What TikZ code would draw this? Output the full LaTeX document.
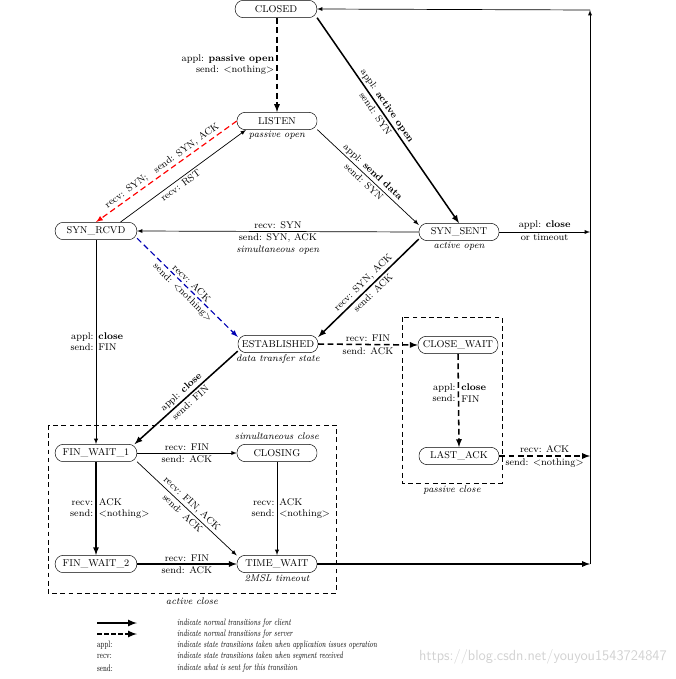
\documentclass[tikz,border=0pt]{standalone}
\usepackage{tikz}
\usetikzlibrary{arrows,shapes}

\newcommand{\legtext}[1]{\scalebox{0.7}[1]{#1}}

\begin{document}
\begin{tikzpicture}[x=0.03cm,y=-0.03cm,>=latex,
    state/.style={draw,rounded corners=7pt,minimum width=2.4cm,minimum height=0.52cm,inner sep=1pt,font=\fontsize{8.5}{10}\selectfont},
    lbl/.style={font=\fontsize{8.3}{9.6}\selectfont,inner sep=1.8pt},
    note/.style={font=\fontsize{8.3}{9.6}\selectfont\itshape,inner sep=1pt},
    leg/.style={font=\fontsize{8}{9}\selectfont,inner sep=0pt},
    cli/.style={line width=1.3pt,->},
    srv/.style={line width=1.3pt,dash pattern=on 5pt off 3pt,->},
    thn/.style={line width=0.6pt,->},
    box/.style={line width=0.5pt,dash pattern=on 4pt off 3pt}]
    \useasboundingbox (0,0) rectangle (675,679);

    \coordinate (tr) at (590,10);
    \coordinate (r1) at (590,232);
    \coordinate (r2) at (590,456);
    \coordinate (br) at (590,564);

    \node[state,minimum width=2.45cm] (closed) at (276,9) {CLOSED};
    \node[state,label={[note]270:passive open}] (listen) at (277,121) {LISTEN};
    \node[state,minimum width=2.45cm] (synrcvd) at (96,231) {SYN\_RCVD};
    \node[state,label={[note]270:active open}] (synsent) at (459,232) {SYN\_SENT};
    \node[state,label={[note]270:data transfer state}] (estab) at (278,344) {ESTABLISHED};
    \node[state] (closewait) at (458,345) {CLOSE\_WAIT};
    \node[state] (lastack) at (459,456) {LAST\_ACK};
    \node[state,minimum width=2.45cm] (finwait1) at (96,453) {FIN\_WAIT\_1};
    \node[state] (closing) at (277,453) {CLOSING};
    \node[state,minimum width=2.45cm] (finwait2) at (96,564) {FIN\_WAIT\_2};
    \node[state,label={[note]270:2MSL timeout}] (timewait) at (277,564) {TIME\_WAIT};

    \draw[box] (402,317) rectangle (502,483);
    \node[note] (pclose) at (452,490) {passive close};
    \draw[box] (48,425) rectangle (336,593);
    \node[note] (aclose) at (192,601) {active close};
    \node[note] (sclose) at (277,436) {simultaneous close};

    \draw[srv] (closed.south -| listen.north) -- node[lbl,left,align=right,pos=.5]{appl: \textbf{passive open}\\send: \textless nothing\textgreater} (listen.north);
    \draw[cli] (closed.-12) -- node[lbl,sloped,above,pos=.45]{appl: \textbf{active open}} node[lbl,sloped,below,pos=.45]{send: SYN} (synsent.north);
    \draw[thn] (listen.-12) -- node[lbl,sloped,above]{appl: \textbf{send data}} node[lbl,sloped,below]{send: SYN} (synsent.170);
    \draw[red,line width=1pt,dash pattern=on 5pt off 3pt,->] (listen.west) -- node[lbl,text=black,sloped,above]{recv: SYN;\quad send: SYN, ACK} (synrcvd.north);
    \draw[thn] (synrcvd.20) -- node[lbl,sloped,below,pos=.45]{recv: RST} (listen.196);
    \draw[thn] (synsent.west) -- node[lbl,above]{recv: SYN} node[lbl,below,align=center]{send: SYN, ACK\\\textit{simultaneous open}} (synrcvd.east);
    \draw[blue!70!black,line width=1pt,dash pattern=on 5pt off 3pt,->] (synrcvd.-10) -- node[lbl,text=black,sloped,above]{recv: ACK} node[lbl,text=black,sloped,below]{send: \textless nothing\textgreater} (estab.170);
    \draw[cli] (synsent.190) -- node[lbl,sloped,above]{recv: SYN, ACK} node[lbl,sloped,below]{send: ACK} (estab.10);
    \draw[thn] (synsent.east) -- node[lbl,above]{appl: \textbf{close}} node[lbl,below]{or timeout} (r1);
    \draw[srv] (estab.east) -- node[lbl,above]{recv: FIN} node[lbl,below]{send: ACK} (closewait.west);
    \draw[srv] (closewait.south) -- node[lbl,left,align=right,pos=.42]{appl:\\send:} node[lbl,right,align=left,pos=.42]{\textbf{close}\\FIN} (lastack.north);
    \draw[srv] (lastack.east) -- node[lbl,above]{recv: ACK} node[lbl,below]{send: \textless nothing\textgreater} (r2);
    \draw[thn] (synrcvd.south) -- node[lbl,left,align=right,pos=.5]{appl:\\send:} node[lbl,right,align=left,pos=.5]{\textbf{close}\\FIN} (finwait1.north);
    \draw[cli] (estab.190) -- node[lbl,sloped,above]{appl: \textbf{close}} node[lbl,sloped,below]{send: FIN} (finwait1.13);
    \draw[thn] (finwait1.east) -- node[lbl,above]{recv: FIN} node[lbl,below]{send: ACK} (closing.west);
    \draw[cli] (finwait1.south) -- node[lbl,left,align=right]{recv:\\send:} node[lbl,right,align=left]{ACK\\\textless nothing\textgreater} (finwait2.north);
    \draw[thn] (finwait1.-12) -- node[lbl,sloped,above]{recv: FIN, ACK} node[lbl,sloped,below]{send: ACK} (timewait.168);
    \draw[thn] (closing.south) -- node[lbl,left,align=right]{recv:\\send:} node[lbl,right,align=left]{ACK\\\textless nothing\textgreater} (timewait.north);
    \draw[cli] (finwait2.east) -- node[lbl,above]{recv: FIN} node[lbl,below]{send: ACK} (timewait.west);
    \draw[cli] (timewait.east) -- (br);
    \draw[line width=0.6pt] (br) -- (r1);
    \draw[thn] (r1) -- (tr);
    \draw[thn] (tr) -- (closed.east);

    \coordinate (la) at (97,623);
    \coordinate (lb) at (137,623);
    \coordinate (lc) at (97,634);
    \coordinate (ld) at (137,634);
    \draw[line width=1.6pt,->] (la) -- (lb);
    \draw[line width=1.6pt,dash pattern=on 4pt off 2pt,->] (lc) -- (ld);
    \node[leg,anchor=west] (t1) at (177,623) {\legtext{\itshape indicate normal transitions for client}};
    \node[leg,anchor=west] (t2) at (177,634) {\legtext{\itshape indicate normal transitions for server}};
    \node[leg,anchor=west] (k3) at (97,645) {\legtext{appl:}};
    \node[leg,anchor=west] (t3) at (177,645) {\legtext{\itshape indicate state transitions taken when application issues operation}};
    \node[leg,anchor=west] (k4) at (97,656) {\legtext{recv:}};
    \node[leg,anchor=west] (t4) at (177,656) {\legtext{\itshape indicate state transitions taken when segment received}};
    \node[leg,anchor=west] (k5) at (97,668) {\legtext{send:}};
    \node[leg,anchor=west] (t5) at (177,668) {\legtext{\itshape indicate what is sent for this transition}};
    \node[anchor=east,text=gray!35,font=\sffamily\fontsize{12.5}{14}\selectfont,inner sep=0pt] (mark) at (667,657) {https://blog.csdn.net/youyou1543724847};
\end{tikzpicture}
\end{document}
